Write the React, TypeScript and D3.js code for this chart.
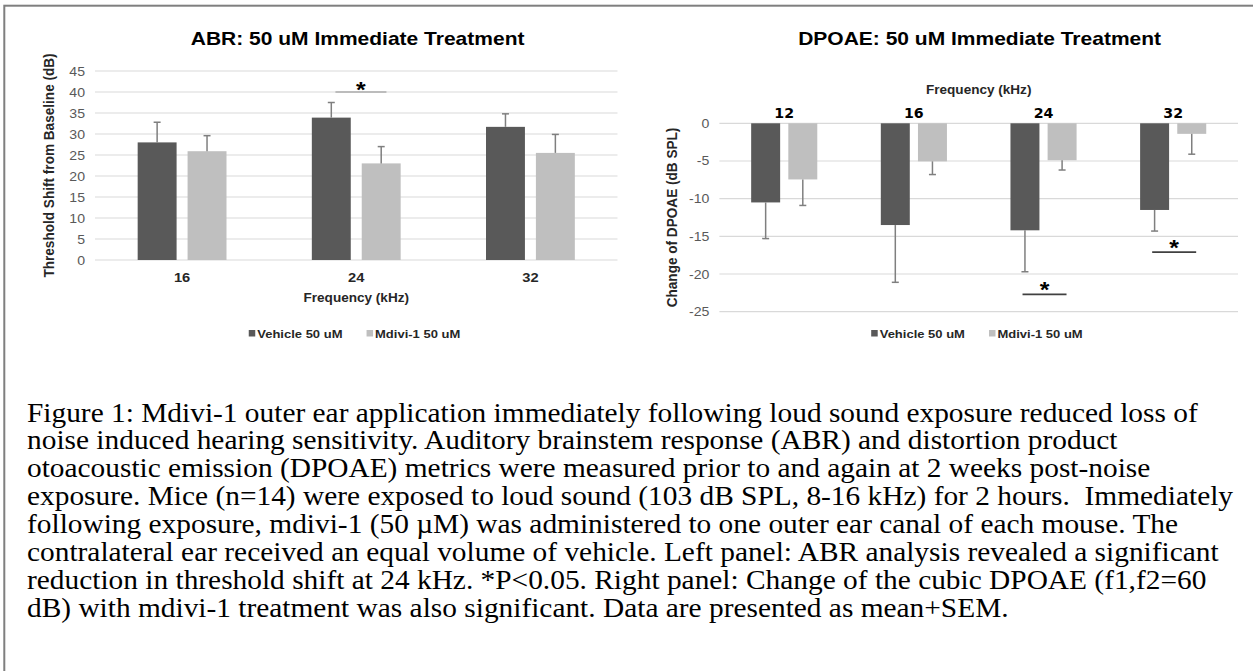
import * as d3 from "d3";
import React from "react";

// ABR panel
const abrCategories = ["16", "24", "32"];
const abrVehicle = [28.0, 33.9, 31.7];
const abrVehicleSem = [4.8, 3.6, 3.1];
const abrMdivi = [25.9, 23.0, 25.5];
const abrMdiviSem = [3.7, 4.0, 4.4];
const abrTicks = [0, 5, 10, 15, 20, 25, 30, 35, 40, 45];
const abrSignificance = [{ category: "24", value: 40 }];

// DPOAE panel
const dpCategories = ["12", "16", "24", "32"];
const dpVehicle = [-10.5, -13.5, -14.2, -11.5];
const dpVehicleSem = [4.8, 7.6, 5.5, 2.8];
const dpMdivi = [-7.45, -5.05, -4.9, -1.4];
const dpMdiviSem = [3.45, 1.75, 1.3, 2.7];
const dpTicks = [0, -5, -10, -15, -20, -25];
const dpSignificance = [
  { category: "24", value: -22.7 },
  { category: "32", value: -17.1 },
];

const seriesNames = ["Vehicle 50 uM", "Mdivi-1 50 uM"];
const seriesColors = ["#595959", "#bfbfbf"];

const captionLines = [
  "Figure 1: Mdivi-1 outer ear application immediately following loud sound exposure reduced loss of",
  "noise induced hearing sensitivity. Auditory brainstem response (ABR) and distortion product",
  "otoacoustic emission (DPOAE) metrics were measured prior to and again at 2 weeks post-noise",
  "exposure. Mice (n=14) were exposed to loud sound (103 dB SPL, 8-16 kHz) for 2 hours.  Immediately",
  "following exposure, mdivi-1 (50 \u00b5M) was administered to one outer ear canal of each mouse. The",
  "contralateral ear received an equal volume of vehicle. Left panel: ABR analysis revealed a significant",
  "reduction in threshold shift at 24 kHz. *P<0.05. Right panel: Change of the cubic DPOAE (f1,f2=60",
  "dB) with mdivi-1 treatment was also significant. Data are presented as mean+SEM.",
];

const SX = 1.13; // the figure is stretched horizontally
const SANS = "'Liberation Sans', Arial, sans-serif";

interface TProps {
  x: number;
  y: number;
  size: number;
  anchor?: string;
  weight?: string | number;
  fill?: string;
  family?: string;
  rotate?: number;
  sx?: number;
  children: React.ReactNode;
}

function T(props: TProps) {
  const rot = props.rotate ? ` rotate(${props.rotate})` : "";
  return (
    <text
      transform={`translate(${props.x},${props.y}) scale(${props.sx || SX},1)${rot}`}
      fontSize={props.size}
      textAnchor={props.anchor || "start"}
      fontWeight={props.weight || "normal"}
      fill={props.fill || "#000"}
      fontFamily={props.family || SANS}
      style={{ whiteSpace: "pre" }}
    >
      {props.children}
    </text>
  );
}

interface PanelProps {
  title: string;
  yLabel: string;
  categories: string[];
  values: number[][];
  sems: number[][];
  ticks: number[];
  significance: { category: string; value: number }[];
  xRange: [number, number];
  yDomain: [number, number];
  yRange: [number, number];
  labelsOnTop: boolean;
  yLabelX: number;
  titleX: number;
  sigOffset: number;
  sigHalf: number;
  sigColor: string;
  sigWidth: number;
  starDy: number;
}

function BarPanel(p: PanelProps) {
  const x = d3.scaleBand<string>()
    .domain(p.categories)
    .range(p.xRange)
    .paddingInner(0.49)
    .paddingOuter(0.245);
  const sub = d3.scaleBand<number>()
    .domain([0, 1])
    .range([0, x.bandwidth()])
    .paddingInner(0.22);
  const y = d3.scaleLinear().domain(p.yDomain).range(p.yRange);
  const [x0, x1] = p.xRange;
  const mid = (x0 + x1) / 2;
  const yMid = (p.yRange[0] + p.yRange[1]) / 2;

  return (
    <g>
      <T x={p.titleX} y={45} size={18.6} anchor="middle" weight="bold">{p.title}</T>

      {p.ticks.map((t) => (
        <g key={t}>
          <line x1={x0} x2={x1} y1={y(t)} y2={y(t)} stroke="#d9d9d9" strokeWidth={1.2} />
          <T x={x0 - 10} y={y(t) + 4.5} size={12.5} anchor="end" fill="#595959">{t}</T>
        </g>
      ))}

      <T x={p.yLabelX} y={yMid} size={13.6} anchor="middle" weight="bold" fill="#262626" rotate={-90}>
        {p.yLabel}
      </T>

      {p.categories.map((c, ci) => (
        <g key={c}>
          {p.values.map((vals, si) => {
            const v = vals[ci];
            const e = p.sems[si][ci];
            const bx = (x(c) as number) + (sub(si) as number);
            const cx = bx + sub.bandwidth() / 2;
            const yTop = Math.min(y(v), y(0));
            const h = Math.abs(y(v) - y(0));
            const yEnd = y(v >= 0 ? v + e : v - e);
            return (
              <g key={si}>
                <rect x={bx} y={yTop} width={sub.bandwidth()} height={h} fill={seriesColors[si]} />
                <line x1={cx} x2={cx} y1={y(v)} y2={yEnd} stroke="#7f7f7f" strokeWidth={1.5} />
                <line x1={cx - 3.5} x2={cx + 3.5} y1={yEnd} y2={yEnd} stroke="#7f7f7f" strokeWidth={1.5} />
              </g>
            );
          })}
          {p.labelsOnTop ? (
            <T x={(x(c) as number) + x.bandwidth() / 2} y={118} size={14} anchor="middle" weight="bold"
              family="'Liberation Sans Narrow', 'DejaVu Sans Condensed', sans-serif">{c}</T>
          ) : (
            <T x={(x(c) as number) + x.bandwidth() / 2} y={282} size={13} anchor="middle" weight="bold"
              fill="#262626">{c}</T>
          )}
        </g>
      ))}

      {p.significance.map((s, i) => {
        const c = (x(s.category) as number) + x.bandwidth() / 2 + p.sigOffset;
        return (
          <g key={i}>
            <line x1={c - p.sigHalf} x2={c + p.sigHalf} y1={y(s.value)} y2={y(s.value)}
              stroke={p.sigColor} strokeWidth={p.sigWidth} />
            <T x={c} y={y(s.value) + p.starDy} size={22} anchor="middle" weight="bold">*</T>
          </g>
        );
      })}

      <T x={mid} y={p.labelsOnTop ? 94 : 302} size={12} anchor="middle" weight="bold" fill="#262626">
        Frequency (kHz)
      </T>

      {seriesNames.map((name, si) => {
        const sq = mid + (si === 0 ? -107.5 : 10.3);
        return (
          <g key={name}>
            <rect x={sq} y={330} width={6.5} height={6.5} fill={seriesColors[si]} />
            <T x={sq + 8.5} y={337.5} size={11.5} weight="bold" fill="#262626">{name}</T>
          </g>
        );
      })}
    </g>
  );
}

export default function App() {
  return (
    <svg width={1253} height={671} style={{ position: "absolute", left: 0, top: 0, background: "#fff" }}>
      <rect x={0} y={0} width={1253} height={671} fill="#fff" />
      <rect x={4.3} y={5.7} width={1270} height={700} fill="none" stroke="#7f7f7f" strokeWidth={2} />

      <BarPanel
        title="ABR: 50 uM Immediate Treatment"
        yLabel="Threshold Shift from Baseline (dB)"
        categories={abrCategories}
        values={[abrVehicle, abrMdivi]}
        sems={[abrVehicleSem, abrMdiviSem]}
        ticks={abrTicks}
        significance={abrSignificance}
        xRange={[95, 617.5]}
        yDomain={[0, 45]}
        yRange={[260, 71]}
        labelsOnTop={false}
        yLabelX={53.8}
        titleX={357.6}
        sigOffset={4.7}
        sigHalf={25.5}
        sigColor="#8c8c8c"
        sigWidth={1}
        starDy={5}
      />

      <BarPanel
        title="DPOAE: 50 uM Immediate Treatment"
        yLabel="Change of DPOAE (dB SPL)"
        categories={dpCategories}
        values={[dpVehicle, dpMdivi]}
        sems={[dpVehicleSem, dpMdiviSem]}
        ticks={dpTicks}
        significance={dpSignificance}
        xRange={[719.4, 1238]}
        yDomain={[-25, 0]}
        yRange={[311.7, 123.3]}
        labelsOnTop={true}
        yLabelX={677}
        titleX={979.6}
        sigOffset={1}
        sigHalf={22}
        sigColor="#404040"
        sigWidth={1.7}
        starDy={3}
      />

      {captionLines.map((line, i) => (
        <T key={i} x={27} y={421.5 + i * 27.9} size={26.5} sx={1.109}
          family="'Liberation Serif', 'Times New Roman', serif">
          {line}
        </T>
      ))}
    </svg>
  );
}
